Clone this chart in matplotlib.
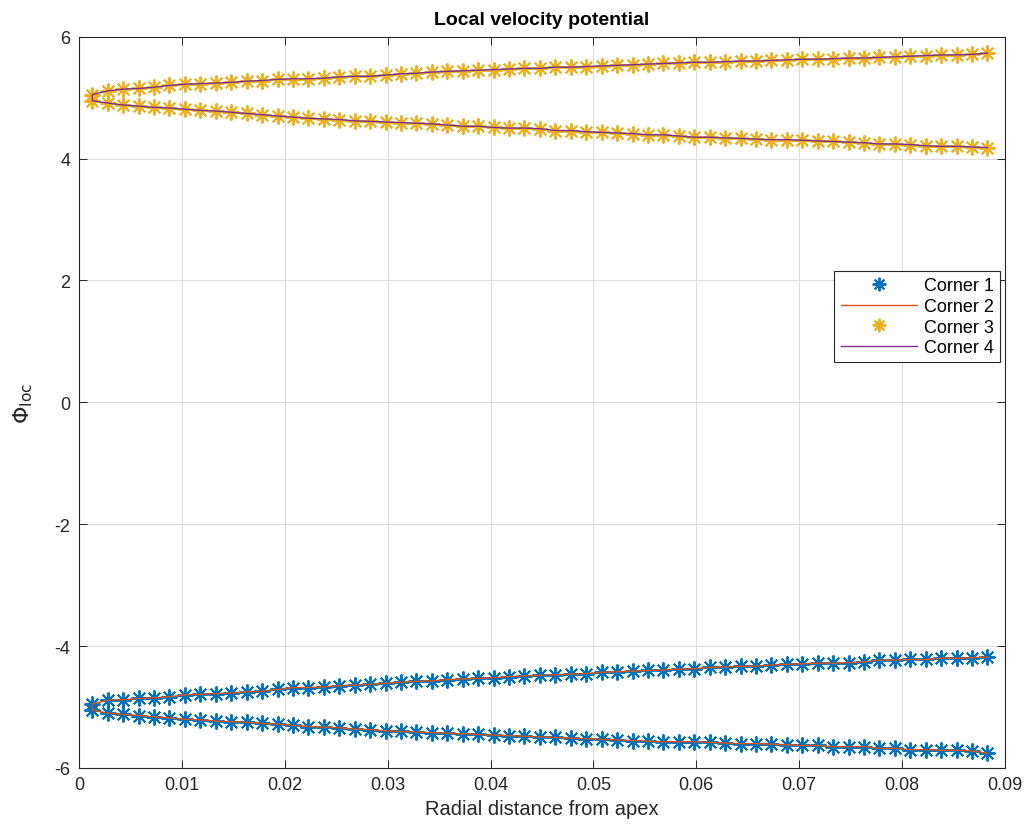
import matplotlib.pyplot as plt

# 반경 방향 거리 (59개 점)
r = [0.0013, 0.0028, 0.0043, 0.0058, 0.0073, 0.0088, 0.0103, 0.0118, 0.0133, 0.0148,
     0.0163, 0.0178, 0.0193, 0.0208, 0.0223, 0.0238, 0.0253, 0.0268, 0.0283, 0.0298,
     0.0313, 0.0328, 0.0343, 0.0358, 0.0373, 0.0388, 0.0403, 0.0418, 0.0433, 0.0448,
     0.0463, 0.0478, 0.0493, 0.0508, 0.0523, 0.0538, 0.0553, 0.0568, 0.0583, 0.0598,
     0.0613, 0.0628, 0.0643, 0.0658, 0.0673, 0.0688, 0.0703, 0.0718, 0.0733, 0.0748,
     0.0763, 0.0778, 0.0793, 0.0808, 0.0823, 0.0838, 0.0853, 0.0868, 0.0883]

# 위쪽 코너 (Corner 3/4) 두 갈래
top_hi = [5.05, 5.11, 5.14, 5.15, 5.17, 5.20, 5.22, 5.23, 5.24, 5.25,
          5.27, 5.28, 5.30, 5.31, 5.31, 5.32, 5.34, 5.35, 5.35, 5.37,
          5.39, 5.40, 5.42, 5.43, 5.44, 5.45, 5.46, 5.47, 5.48, 5.48,
          5.50, 5.50, 5.51, 5.52, 5.53, 5.54, 5.55, 5.56, 5.57, 5.58,
          5.58, 5.59, 5.60, 5.60, 5.61, 5.62, 5.63, 5.63, 5.64, 5.65,
          5.65, 5.66, 5.67, 5.68, 5.69, 5.70, 5.70, 5.71, 5.73]
top_lo = [4.95, 4.91, 4.88, 4.86, 4.84, 4.83, 4.81, 4.79, 4.78, 4.76,
          4.74, 4.72, 4.70, 4.68, 4.66, 4.65, 4.64, 4.62, 4.61, 4.60,
          4.59, 4.58, 4.57, 4.55, 4.53, 4.53, 4.51, 4.50, 4.50, 4.49,
          4.46, 4.46, 4.44, 4.43, 4.42, 4.41, 4.39, 4.39, 4.37, 4.35,
          4.35, 4.34, 4.33, 4.32, 4.31, 4.31, 4.30, 4.29, 4.28, 4.27,
          4.26, 4.24, 4.24, 4.23, 4.21, 4.20, 4.20, 4.19, 4.18]

# 아래쪽 코너 (Corner 1/2) 두 갈래
bot_hi = [-4.95, -4.89, -4.88, -4.86, -4.85, -4.83, -4.80, -4.79, -4.78, -4.77,
          -4.75, -4.74, -4.71, -4.68, -4.68, -4.67, -4.65, -4.64, -4.63, -4.61,
          -4.59, -4.58, -4.57, -4.55, -4.54, -4.53, -4.52, -4.50, -4.49, -4.48,
          -4.47, -4.46, -4.45, -4.43, -4.42, -4.41, -4.40, -4.39, -4.38, -4.37,
          -4.35, -4.34, -4.33, -4.33, -4.31, -4.30, -4.29, -4.28, -4.28, -4.27,
          -4.26, -4.23, -4.23, -4.22, -4.22, -4.20, -4.20, -4.19, -4.18]
bot_lo = [-5.05, -5.10, -5.12, -5.14, -5.16, -5.18, -5.20, -5.21, -5.23, -5.24,
          -5.25, -5.27, -5.28, -5.30, -5.32, -5.33, -5.34, -5.36, -5.37, -5.39,
          -5.40, -5.41, -5.42, -5.43, -5.44, -5.45, -5.46, -5.47, -5.48, -5.49,
          -5.50, -5.51, -5.52, -5.53, -5.54, -5.55, -5.56, -5.57, -5.57, -5.57,
          -5.58, -5.59, -5.60, -5.60, -5.61, -5.62, -5.63, -5.63, -5.65, -5.65,
          -5.65, -5.68, -5.68, -5.70, -5.70, -5.71, -5.71, -5.72, -5.76]

labels = ['Corner 1', 'Corner 2', 'Corner 3', 'Corner 4']

# 한 갈래를 거꾸로 돌아와 다른 갈래로 이어지는 닫힌 곡선
x_loop = r[::-1] + r
bot = bot_hi[::-1] + bot_lo
top = top_hi[::-1] + top_lo

plt.rcParams['font.family'] = ['Liberation Sans', 'DejaVu Sans']
plt.rcParams['mathtext.fontset'] = 'dejavusans'
plt.rcParams['axes.unicode_minus'] = False

star = (8, 2, 0)  # MATLAB 식 별표(*) 마커

fig = plt.figure(figsize=(10.28, 8.28), dpi=100)
ax = fig.add_axes([0.0768, 0.0713, 0.9008, 0.8832])

ax.plot(x_loop, bot, linestyle='none', marker=star, color='#0072BD', markersize=11.5, markeredgewidth=1.4, label=labels[0])
ax.plot(x_loop, bot, '-', color='#D95319', linewidth=1.0, label=labels[1])
ax.plot(x_loop, top, linestyle='none', marker=star, color='#EDB120', markersize=11.5, markeredgewidth=1.4, label=labels[2])
ax.plot(x_loop, top, '-', color='#7E2F8E', linewidth=1.0, label=labels[3])

ax.set_xlim(0, 0.09)
ax.set_ylim(-6, 6)
ax.set_xticks([0, 0.01, 0.02, 0.03, 0.04, 0.05, 0.06, 0.07, 0.08, 0.09])
ax.set_xticklabels(['0', '0.01', '0.02', '0.03', '0.04', '0.05', '0.06', '0.07', '0.08', '0.09'])
ax.set_yticks([-6, -4, -2, 0, 2, 4, 6])
ax.tick_params(direction='in', top=True, right=True, labelsize=13, length=6, width=0.7,
               colors='#262626', pad=6)
ax.grid(True, color='#dcdcdc', linewidth=0.8)
ax.set_axisbelow(True)
for s in ax.spines.values():
    s.set_linewidth(0.8)
    s.set_color('#262626')

ax.set_title('Local velocity potential', fontsize=14, fontweight='bold', pad=9)
ax.set_xlabel('Radial distance from apex', fontsize=14.5, color='#262626', labelpad=4)
ax.set_ylabel(r'$\Phi_{\mathrm{loc}}$', fontsize=16, color='#262626', labelpad=14)

leg = ax.legend(loc='upper right', bbox_to_anchor=(0.9946, 0.6796), fontsize=13,
                frameon=True, fancybox=False, framealpha=1, edgecolor='#262626',
                handlelength=4.2, handletextpad=0.4, borderpad=0.35, labelspacing=0.2,
                borderaxespad=0, markerscale=0.85)
leg.get_frame().set_linewidth(0.8)

plt.savefig('out.png')
